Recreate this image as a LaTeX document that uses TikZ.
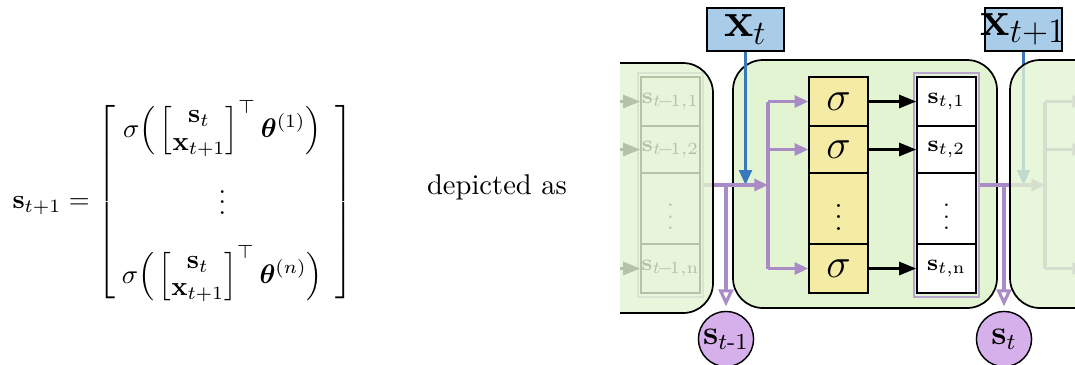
\documentclass[tikz,border=0pt]{standalone}
\usepackage{amsmath,bm}
\usetikzlibrary{arrows.meta,fit,calc}

\definecolor{cellgreen}{HTML}{E2F4D2}
\definecolor{sigyellow}{HTML}{F4EBA5}
\definecolor{inblue}{HTML}{A9CDE9}
\definecolor{arrblue}{HTML}{3A78BE}
\definecolor{lnpurple}{HTML}{A98CC6}
\definecolor{circpurple}{HTML}{D5B0EA}
\definecolor{framepurple}{HTML}{B7A5CF}

\tikzset{
 cellbox/.style={draw=black, line width=0.6pt, rounded corners=10.5pt, inner sep=0pt},
 sigbox/.style={draw=black, line width=0.5pt, fill=sigyellow, inner sep=0pt},
 sbox/.style={draw=black, line width=0.5pt, fill=white, inner sep=0pt},
 framebox/.style={draw=framepurple, line width=0.8pt, inner sep=0pt},
 inbox/.style={draw=black, line width=0.5pt, fill=inblue, inner sep=0pt},
 statecirc/.style={circle, draw=black, line width=0.5pt, fill=circpurple, minimum size=19.3pt, inner sep=0pt},
 purpline/.style={draw=lnpurple, line width=1.1pt},
 purparrow/.style={purpline, -{Triangle[length=4.8pt,width=4.2pt]}},
 openarrow/.style={draw=lnpurple, line width=1.1pt, -{Triangle[open, length=6pt, width=5.2pt]}},
 blackarrow/.style={draw=black, line width=1.1pt, -{Triangle[length=6pt,width=4.5pt]}},
 bluearrow/.style={draw=arrblue, line width=1.1pt, -{Triangle[length=5.2pt,width=4.4pt]}},
 fadebox/.style={cellbox, fill=cellgreen, fill opacity=0.8},
 siglabel/.style={font=\fontsize{15.5}{18}\selectfont},
 slabel/.style={font=\footnotesize},
}

% sigma column
\newcommand\sigcol{%
 \node[sigbox, fit={(809,77)(868,126)}, label={[siglabel]center:$\sigma$}] (sg1) {};
 \node[sigbox, fit={(809,126)(868,173)}, label={[siglabel]center:$\sigma$}] (sg2) {};
 \node[sigbox, fit={(809,173)(868,244)}, label=center:{$\vdots$}] (sgd) {};
 \node[sigbox, fit={(809,244)(868,293)}, label={[siglabel]center:$\sigma$}] (sgn) {};
}
% state column
\newcommand\scol[1]{%
 \node[framebox, fit={(914,73)(979,297)}] (frame) {};
 \node[sbox, fit={(917,77)(976,126)}, label={[slabel]center:$\mathbf{s}_{#1,1}$}] (sc1) {};
 \node[sbox, fit={(917,126)(976,173)}, label={[slabel]center:$\mathbf{s}_{#1,2}$}] (sc2) {};
 \node[sbox, fit={(917,173)(976,244)}, label={[slabel]center:$\vdots$}] (scd) {};
 \node[sbox, fit={(917,244)(976,293)}, label={[slabel]center:$\mathbf{s}_{#1,\mathrm{n}}$}] (scn) {};
}
% stacked input vector of the equation
\newcommand\stackin{\Big[{\renewcommand\arraystretch{0.85}\begin{array}{@{}c@{}}\mathbf{s}_t\\ \mathbf{x}_{t+1}\end{array}}\Big]^{\top}}

\begin{document}
\begin{tikzpicture}[x=0.35pt, y=-0.35pt]
\useasboundingbox (0,0) rectangle (1075,364);

% equation
\node[anchor=west, inner sep=0pt, scale=0.94] (eq) at (12,202) {$\mathbf{s}_{t+1} =
 \left[\begin{array}{@{\hspace{2.5pt}}c@{\hspace{4.5pt}}}
 \sigma\Big(\,\stackin\,\bm{\theta}^{(1)}\Big)\\[10pt]
 \vdots\\[8pt]
 \sigma\Big(\,\stackin\,\bm{\theta}^{(n)}\Big)
 \end{array}\right]$};
\node (dep) at (497,187) {depicted as};

\begin{scope}
\clip (620,0) rectangle (1075,370);
\node[cellbox, fill=cellgreen, fit={(733,60)(997,308)}] (midbox) {};

% left neighbour (only its state column is in view)
\begin{scope}[shift={(-276,0)}, name prefix=L-]
 \scol{t\!-\!1}
 \foreach \k/\y in {1/101.5,2/149.5,n/268.5} {
  \coordinate (se\k) at (868,\y);
  \draw[blackarrow] (se\k) -- (sc\k.west);
 }
\end{scope}

% right neighbour (only its input fan is in view)
\begin{scope}[shift={(277,0)}, name prefix=R-]
 \coordinate (inj) at (768,185);
 \foreach \k/\y in {1/101.5,2/149.5,n/268.5} \coordinate (sw\k) at (809,\y);
 \draw[purpline] (inj |- sw1) -- (inj |- swn);
 \foreach \k in {1,2,n} \draw[purparrow] (inj |- sw\k) -- (sw\k);
\end{scope}

% middle cell
\sigcol
\scol{t}
\coordinate (inj) at (768,185);
\draw[purpline] (inj |- sg1.west) -- (inj |- sgn.west);
\foreach \k in {1,2,n} \draw[purparrow] (inj |- sg\k.west) -- (sg\k.west);
\foreach \k in {1,2,n} \draw[blackarrow] (sg\k.east) -- (sc\k.west);

\node[inbox, fit={(707,8)(784,51)}, label=center:{\LARGE$\mathbf{x}_t$}] (xt) {};
\node[inbox, fit={(985,8)(1062,51)}, label=center:{\LARGE$\mathbf{x}_{t+1}$}] (xtt) {};
\draw[bluearrow] (xt.south) -- (xt.south |- inj);
\draw[bluearrow] (xtt.south) -- (xtt.south |- R-inj);

\node[statecirc, label=center:{\large$\mathbf{s}_{t\text{-}1}$}] (cprev) at (726,339) {};
\node[statecirc, label=center:{\large$\mathbf{s}_{t}$}] (ccur) at (1004,339) {};

\draw[purparrow] (L-frame.east |- inj) -- (inj);
\draw[openarrow, shorten >=1.5pt] (cprev.north |- inj) -- (cprev.north);
\draw[purparrow] (frame.east |- R-inj) -- (R-inj);
\draw[openarrow, shorten >=1.5pt] (ccur.north |- R-inj) -- (ccur.north);

\node[fadebox, fit={(400,63)(713,313)}] (lbox) {};
\node[fadebox, fit={(1010,60)(1300,308)}] (rbox) {};
\end{scope}
\end{tikzpicture}
\end{document}
